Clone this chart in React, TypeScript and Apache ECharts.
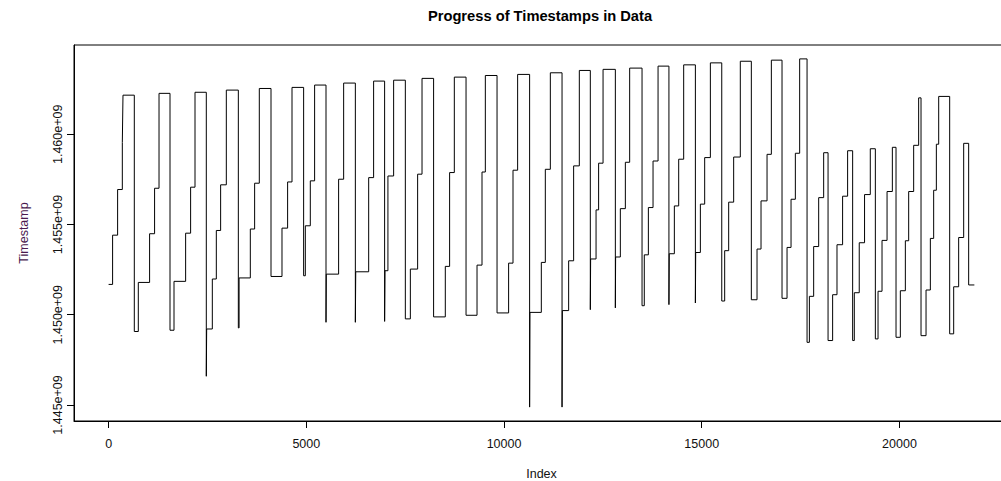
import React, { useEffect, useRef } from "react";
import * as echarts from "echarts";

// Row index where each run of timestamps begins, and the timestamp (seconds) held from there.
const stepIndex = [
  0, 101, 228, 347, 364, 650,
  751, 1037, 1163, 1275, 1553,
  1654, 1948, 2074, 2185, 2471, 2480,
  2623, 2724, 2833, 2977, 3281,
  3300, 3584, 3693, 3811, 4107,
  4385, 4527, 4638, 4932,
  4975, 5101, 5210, 5498, 5505,
  5817, 5944, 6240, 6250,
  6577, 6702, 6980, 6990,
  7064, 7208, 7504,
  7631, 7815, 7926, 8219,
  8515, 8624, 8743, 9039,
  9317, 9443, 9527, 9823,
  10116, 10227, 10344, 10647, 10655,
  10943, 11044, 11171, 11467, 11475,
  11634, 11760, 11904, 12182, 12190,
  12327, 12392, 12504, 12815, 12822,
  12941, 13068, 13177, 13490, 13547,
  13650, 13768, 13895, 14170, 14178,
  14307, 14417, 14543, 14839, 14847,
  14965, 15074, 15218, 15506, 15580,
  15681, 15807, 15975, 16254,
  16398, 16499, 16651, 16760, 17030,
  17157, 17258, 17367, 17476, 17663,
  17722, 17830, 17957, 18083, 18194,
  18310, 18420, 18562, 18689, 18816,
  18858, 18983, 19117, 19262, 19390,
  19458, 19559, 19686, 19820, 19913,
  20022, 20149, 20233, 20359, 20485, 20545,
  20672, 20781, 20865, 20933, 20992, 21270,
  21371, 21497, 21624, 21750, 21894,
];

const stepTime = [
  1451.68e6, 1454.41e6, 1456.94e6, 1459.54e6, 1462.17e6, 1449.07e6,
  1451.79e6, 1454.49e6, 1457.01e6, 1462.27e6, 1449.14e6,
  1451.85e6, 1454.52e6, 1457.07e6, 1462.33e6, 1446.59e6, 1449.21e6,
  1451.98e6, 1454.67e6, 1457.2e6, 1462.45e6, 1449.27e6,
  1452.04e6, 1454.75e6, 1457.29e6, 1462.54e6, 1452.12e6,
  1454.8e6, 1457.36e6, 1462.6e6, 1452.16e6,
  1454.93e6, 1457.42e6, 1462.73e6, 1449.58e6, 1452.25e6,
  1457.51e6, 1462.84e6, 1449.58e6, 1452.38e6,
  1457.6e6, 1462.95e6, 1449.63e6, 1452.44e6,
  1457.69e6, 1463.0e6, 1449.77e6,
  1452.53e6, 1457.79e6, 1463.1e6, 1449.88e6,
  1452.68e6, 1457.88e6, 1463.17e6, 1449.97e6,
  1452.75e6, 1457.91e6, 1463.26e6, 1450.1e6,
  1452.86e6, 1458.01e6, 1463.32e6, 1444.88e6, 1450.13e6,
  1452.9e6, 1458.06e6, 1463.41e6, 1444.88e6, 1450.23e6,
  1452.99e6, 1458.25e6, 1463.54e6, 1450.28e6, 1453.09e6,
  1455.81e6, 1458.4e6, 1463.6e6, 1450.38e6, 1453.2e6,
  1455.88e6, 1458.45e6, 1463.67e6, 1450.5e6, 1453.32e6,
  1455.94e6, 1458.52e6, 1463.78e6, 1450.56e6, 1453.38e6,
  1456.03e6, 1458.62e6, 1463.85e6, 1450.65e6, 1453.45e6,
  1456.13e6, 1458.71e6, 1463.96e6, 1450.76e6, 1453.55e6,
  1456.24e6, 1458.74e6, 1464.05e6, 1450.83e6,
  1453.64e6, 1456.31e6, 1458.89e6, 1464.11e6, 1450.91e6,
  1453.73e6, 1456.4e6, 1458.95e6, 1464.18e6, 1448.47e6,
  1451.02e6, 1453.78e6, 1456.49e6, 1458.98e6, 1448.57e6,
  1451.11e6, 1453.88e6, 1456.57e6, 1459.09e6, 1448.57e6,
  1451.22e6, 1453.99e6, 1456.66e6, 1459.2e6, 1448.66e6,
  1451.3e6, 1454.12e6, 1456.83e6, 1459.28e6, 1448.75e6,
  1451.33e6, 1454.1e6, 1456.83e6, 1459.39e6, 1462.02e6, 1448.84e6,
  1451.37e6, 1454.23e6, 1456.9e6, 1459.45e6, 1462.1e6, 1448.94e6,
  1451.55e6, 1454.28e6, 1459.5e6, 1451.65e6, 1451.65e6,
];

const xTicks = [0, 5000, 10000, 15000, 20000];
const yTicks = [1.445e9, 1.45e9, 1.455e9, 1.46e9];

const FONT = "'Liberation Sans', Arial, sans-serif";

export default function App() {
  const ref = useRef<HTMLDivElement>(null);

  useEffect(() => {
    if (!ref.current) return;
    const chart = echarts.init(ref.current, null, { renderer: "svg" });
    chart.setOption({
      animation: false,
      backgroundColor: "#ffffff",
      title: {
        text: "Progress of Timestamps in Data",
        left: 535,
        top: 3,
        textAlign: "center",
        textStyle: { fontFamily: FONT, fontSize: 14.7, fontWeight: "bold", color: "#000" },
      },
      grid: {
        left: 74,
        top: 45,
        width: 935,
        height: 376,
        show: true,
        borderColor: "#000",
        borderWidth: 1,
        backgroundColor: "transparent",
        outerBoundsMode: "none",
        containLabel: false,
      },
      xAxis: {
        type: "value",
        min: -875,
        max: 22770,
        name: "Index",
        nameLocation: "middle",
        nameGap: 46,
        nameTextStyle: { fontFamily: FONT, fontSize: 12.5, color: "#111" },
        axisLine: { show: true, onZero: false, lineStyle: { color: "#000", width: 1 } },
        splitLine: { show: false },
        axisTick: { show: true, customValues: xTicks, length: 7, lineStyle: { color: "#000", width: 1 } },
        axisLabel: {
          customValues: xTicks,
          margin: 16,
          fontFamily: FONT,
          fontSize: 12.5,
          color: "#111",
          formatter: (v: number) => String(v),
        },
      },
      yAxis: {
        type: "value",
        min: 1444.11e6,
        max: 1464.95e6,
        name: "Timestamp",
        nameLocation: "middle",
        nameGap: 44,
        nameTextStyle: { fontFamily: FONT, fontSize: 12.5, color: "#4a1a4f" },
        axisLine: { show: true, onZero: false, lineStyle: { color: "#000", width: 1 } },
        splitLine: { show: false },
        axisTick: { show: true, customValues: yTicks, length: 7, lineStyle: { color: "#000", width: 1 } },
        axisLabel: {
          customValues: yTicks,
          rotate: 90,
          margin: 10,
          fontFamily: FONT,
          fontSize: 12.5,
          color: "#111",
          formatter: (v: number) => (v / 1e9).toFixed(3) + "e+09",
        },
      },
      series: [
        {
          type: "line",
          step: "end",
          data: stepIndex.map((x, i) => [x, stepTime[i]]),
          symbol: "none",
          showSymbol: false,
          lineStyle: { color: "#000", width: 1 },
          clip: true,
        },
      ],
    });
    return () => chart.dispose();
  }, []);

  // The plot box runs past the right edge of the page, so the chart is wider than its frame.
  return (
    <div style={{ position: "fixed", left: 0, top: 0, width: 1001, height: 481, overflow: "hidden", background: "#fff" }}>
      <div ref={ref} style={{ width: 1014, height: 481 }} />
    </div>
  );
}
